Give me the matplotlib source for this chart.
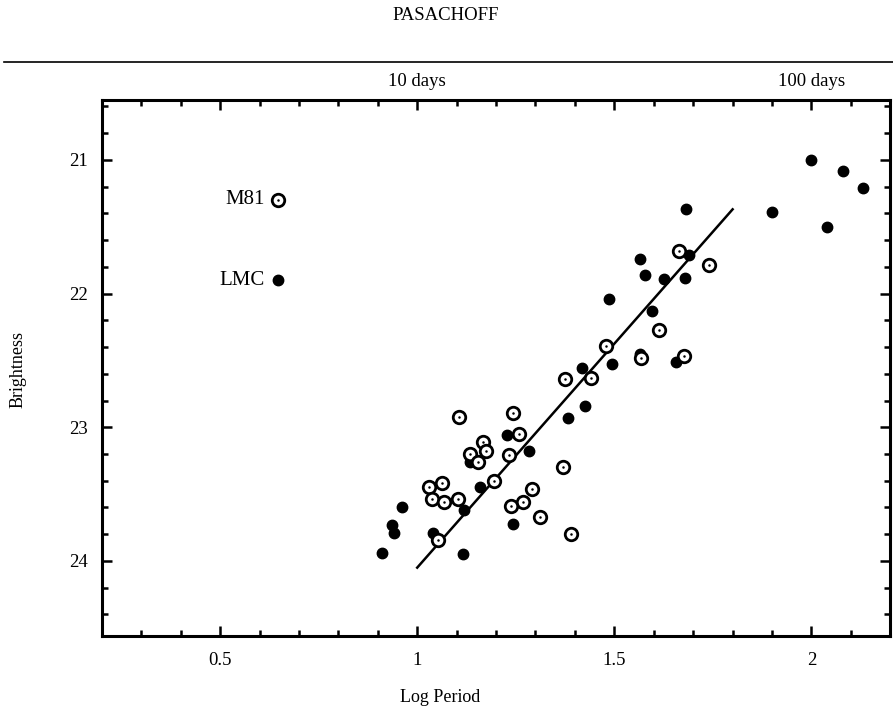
"""period-brightness plot, cepheids in M81 vs LMC
redrawn from the printed figure
"""
import numpy as np
from matplotlib import pyplot as plt
from matplotlib.ticker import MultipleLocator

#% data
# LMC cepheids (filled dots)
lmc_logp = [2.00, 2.08, 2.13, 1.90, 2.04, 1.683, 1.689, 1.566, 1.577, 1.627,
            1.680, 1.486, 1.596, 1.494, 1.418, 1.657, 1.566, 1.426, 1.383,
            1.228, 1.284, 1.135, 1.160, 1.119, 0.961, 0.937, 0.942, 0.910,
            1.041, 1.244, 1.115]
lmc_mag = [21.00, 21.08, 21.21, 21.39, 21.50, 21.37, 21.71, 21.74, 21.86,
           21.89, 21.88, 22.04, 22.13, 22.53, 22.56, 22.51, 22.45, 22.84,
           22.93, 23.06, 23.18, 23.26, 23.45, 23.62, 23.60, 23.73, 23.79,
           23.94, 23.79, 23.72, 23.95]
# M81 cepheids (open circles)
m81_logp = [1.665, 1.740, 1.613, 1.478, 1.568, 1.676, 1.442, 1.374, 1.244,
            1.107, 1.258, 1.168, 1.175, 1.135, 1.153, 1.233, 1.196, 1.029,
            1.063, 1.037, 1.069, 1.103, 1.292, 1.268, 1.238, 1.312, 1.371,
            1.390, 1.053]
m81_mag = [21.68, 21.79, 22.27, 22.39, 22.48, 22.47, 22.63, 22.64, 22.89,
           22.92, 23.05, 23.11, 23.18, 23.20, 23.26, 23.21, 23.40, 23.45,
           23.42, 23.54, 23.56, 23.54, 23.46, 23.56, 23.59, 23.67, 23.30,
           23.80, 23.84]
# fitted relation
fit_logp = [1.0, 1.80]
fit_mag = [24.05, 21.37]
# key
key_names = ['M81', 'LMC']
key_logp = 0.648
key_mag = [21.30, 21.90]
top_ticks = [1, 2]
top_labels = ['10 days', '100 days']

plt.rcParams['font.family'] = ['Liberation Serif', 'DejaVu Serif']

fig = plt.figure(figsize=(8.93, 7.12), dpi=100)
ax = fig.add_axes([0.114, 0.107, 0.883, 0.753])

def open_mark(x, y):
    ax.plot(x, y, 'o', ms=9, mfc='white', mec='black', mew=2.0, ls='none', zorder=3)
    ax.plot(x, y, 'o', ms=1.8, mfc='black', mec='black', mew=0, ls='none', zorder=4)

ax.plot(fit_logp, fit_mag, '-', color='black', lw=1.8, zorder=2)
ax.plot(lmc_logp, lmc_mag, 'o', ms=7.5, color='black', ls='none', zorder=3)
open_mark(m81_logp, m81_mag)

# key in upper left
open_mark([key_logp], [key_mag[0]])
ax.plot([key_logp], [key_mag[1]], 'o', ms=7.5, color='black', zorder=3)
for name, m in zip(key_names, key_mag):
    ax.text(key_logp - 0.035, m, name, ha='right', va='center', fontsize=15)

ax.set_xlim(0.2, 2.2)
ax.set_ylim(24.56, 20.55)
ax.xaxis.set_minor_locator(MultipleLocator(0.1))
ax.yaxis.set_minor_locator(MultipleLocator(0.2))
ax.set_xticks([0.5, 1, 1.5, 2], labels=['0.5', '1', '1.5', '2'])
ax.set_yticks([21, 22, 23, 24], labels=['21', '22', '23', '24'])
ax.tick_params(which='both', direction='in', top=True, right=True,
               width=1.8, labelsize=13.5)
ax.tick_params(which='major', length=7)
ax.tick_params(which='minor', length=4.5)
ax.tick_params(axis='x', which='major', pad=12)
ax.tick_params(axis='y', which='major', pad=10)
for s in ax.spines.values():
    s.set_linewidth(2.2)

sec = ax.secondary_xaxis('top')
sec.set_xticks(top_ticks, labels=top_labels)
sec.tick_params(length=0, pad=7, labelsize=13.5)
sec.spines['top'].set_visible(False)

fig.text(440/893, 1 - 698/712, 'Log Period', ha='center', va='center', fontsize=13)
fig.text(18/893, 1 - 370/712, 'Brightness', ha='center', va='center',
         rotation=90, fontsize=13)
fig.text(446/893, 1 - 15/712, 'PASACHOFF', ha='center', va='center', fontsize=13.5)
fig.add_artist(plt.Line2D([0.005, 1.0], [1 - 62/712] * 2, color='black', lw=1.2))

fig.savefig('out.png', dpi=100)
